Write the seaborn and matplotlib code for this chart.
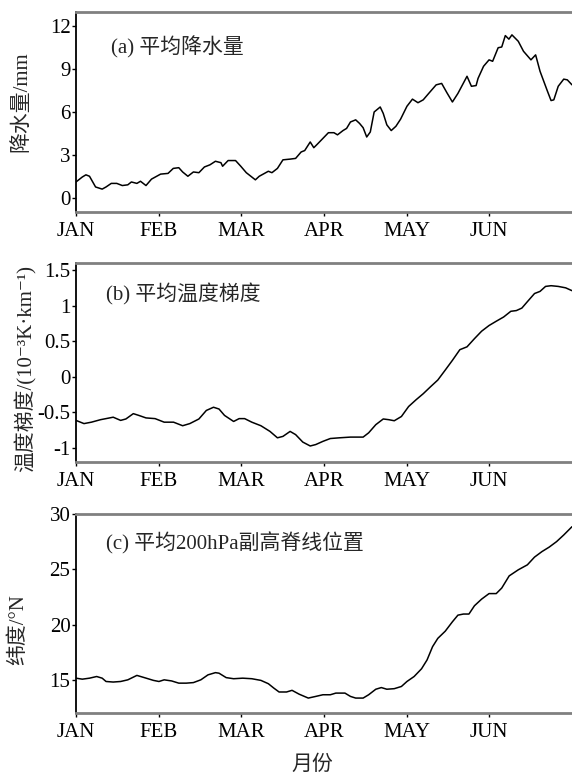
import matplotlib
matplotlib.use('Agg')
import matplotlib.pyplot as plt
import seaborn as sns
import pandas as pd

# eixo x: dias desde 1 jan (cada mes ~30 dias no grafico)
meses = ['JAN', 'FEB', 'MAR', 'APR', 'MAY', 'JUN']
pos_meses = [0, 30, 60, 90, 120, 150]

# (a) precipitacao media
dias_a = [0, 2.3, 3.6, 4.9, 7.1, 9.5, 10.9, 12.8, 14.8, 16.8, 18.8, 20.1, 22.1, 23.4, 25.4, 27.4,
          30.7, 33.4, 35.3, 37.3, 38.7, 40.6, 42.6, 44.6, 46.6, 48.6, 50.6, 52.6, 53.2, 55.2, 57.9,
          59.8, 61.8, 65.1, 66.5, 68.4, 69.8, 71.1, 73.1, 75.1, 77.7, 79.7, 81.7, 83.0, 85.0, 86.3,
          87.6, 89.6, 91.6, 93.6, 94.9, 96.9, 98.2, 99.6, 101.5, 102.9, 104.2, 105.5, 106.8, 108.2,
          110.4, 111.5, 112.8, 114.4, 116.1, 117.8, 120.1, 122.1, 124.1, 126.0, 128.0, 130.7, 132.7,
          134.6, 136.6, 138.6, 141.9, 143.5, 145.2, 145.9, 147.9, 149.9, 151.2, 153.2, 154.5, 155.8,
          157.1, 158.2, 160.5, 162.4, 165.1, 166.8, 168.4, 171.1, 172.4, 173.4, 175.0, 177.0, 178.3, 180]
prec = [1.1, 1.45, 1.6, 1.5, 0.75, 0.6, 0.75, 1.0, 1.0, 0.85, 0.9, 1.1, 1.0, 1.15, 0.85, 1.3,
        1.65, 1.7, 2.05, 2.1, 1.8, 1.5, 1.8, 1.75, 2.15, 2.3, 2.55, 2.45, 2.2, 2.6, 2.6,
        2.2, 1.75, 1.25, 1.5, 1.7, 1.85, 1.75, 2.05, 2.65, 2.7, 2.75, 3.2, 3.3, 3.9, 3.5,
        3.75, 4.15, 4.55, 4.55, 4.4, 4.7, 4.85, 5.3, 5.45, 5.2, 4.9, 4.25, 4.6, 6.0,
        6.35, 5.9, 5.1, 4.7, 5.0, 5.5, 6.4, 6.9, 6.65, 6.85, 7.3, 7.9, 8.0,
        7.35, 6.7, 7.3, 8.5, 7.8, 7.85, 8.35, 9.2, 9.65, 9.55, 10.5, 10.55, 11.35,
        11.1, 11.4, 10.95, 10.25, 9.65, 10.0, 8.85, 7.45, 6.8, 6.85, 7.8, 8.3, 8.25, 7.9]

# (b) gradiente de temperatura medio
dias_b = [0, 2.9, 5.6, 8.9, 12.2, 13.5, 16.2, 18.1, 20.8, 22.8, 25.4, 28.7, 32.0, 35.4, 38.7,
          41.3, 44.6, 47.3, 49.9, 51.9, 53.9, 57.2, 59.2, 61.2, 63.8, 67.1, 70.4, 73.1, 75.1,
          77.7, 79.7, 82.3, 85.0, 87.0, 89.6, 92.3, 95.6, 99.6, 104.2, 106.2, 108.8, 111.5,
          113.5, 115.5, 118.1, 120.7, 123.4, 126.0, 128.7, 131.3, 134.0, 136.6, 139.3, 141.9,
          144.6, 147.2, 149.9, 152.5, 155.2, 157.8, 159.8, 161.8, 163.8, 166.4, 168.4, 170.4,
          172.4, 175.0, 177.7, 180]
grad = [-0.615, -0.66, -0.64, -0.605, -0.58, -0.57, -0.615, -0.595, -0.52, -0.545, -0.58, -0.59,
        -0.64, -0.64, -0.69, -0.66, -0.595, -0.475, -0.43, -0.455, -0.545, -0.63, -0.59, -0.59,
        -0.64, -0.69, -0.77, -0.86, -0.84, -0.77, -0.815, -0.92, -0.975, -0.955, -0.91, -0.87,
        -0.86, -0.85, -0.85, -0.79, -0.675, -0.595, -0.605, -0.62, -0.56, -0.42, -0.325, -0.24,
        -0.14, -0.047, 0.093, 0.23, 0.38, 0.42, 0.535, 0.64, 0.72, 0.78, 0.84, 0.92, 0.93,
        0.965, 1.055, 1.17, 1.2, 1.27, 1.28, 1.27, 1.25, 1.21]

# (c) posicao media da crista subtropical em 200hPa
dias_c = [0, 2.3, 4.9, 7.5, 9.5, 10.9, 13.5, 16.2, 18.8, 22.1, 24.8, 28.1, 30.1, 32.0, 34.7,
          37.3, 40.0, 42.6, 45.3, 47.9, 50.6, 51.9, 54.5, 57.2, 60.5, 63.8, 67.1, 69.8, 71.8,
          73.7, 76.4, 78.4, 81.0, 84.3, 87.0, 89.6, 92.3, 94.3, 97.6, 99.6, 101.5, 104.2, 106.2,
          108.8, 110.8, 112.8, 115.5, 118.1, 120.1, 122.7, 125.4, 127.4, 129.4, 131.3, 134.0,
          136.6, 138.6, 140.6, 142.6, 144.6, 147.2, 149.9, 152.5, 154.5, 157.2, 160.5, 163.8,
          166.4, 169.1, 171.7, 174.4, 177.0, 180]
lat = [15.15, 15.06, 15.15, 15.3, 15.15, 14.85, 14.8, 14.85, 15.0, 15.4, 15.2, 14.95, 14.85,
       15.0, 14.9, 14.7, 14.7, 14.75, 15.0, 15.45, 15.65, 15.6, 15.2, 15.1, 15.15, 15.1, 14.95,
       14.65, 14.25, 13.9, 13.9, 14.05, 13.7, 13.35, 13.5, 13.65, 13.65, 13.8, 13.8, 13.5, 13.35,
       13.35, 13.65, 14.15, 14.3, 14.15, 14.2, 14.4, 14.85, 15.3, 16.0, 16.8, 18.0, 18.75, 19.4,
       20.25, 20.85, 20.95, 20.95, 21.7, 22.3, 22.8, 22.8, 23.3, 24.4, 24.95, 25.4, 26.1, 26.6,
       27.0, 27.5, 28.1, 28.85]

sns.set_style('ticks')
plt.rcParams['font.family'] = ['Liberation Serif', 'Noto Sans CJK SC', 'DejaVu Sans']
plt.rcParams['axes.unicode_minus'] = False

fig = plt.figure(figsize=(5.72, 7.75), dpi=100)

paineis = [
    (dias_a, prec, [0.7265, 0.258], (-1, 13), [0, 3, 6, 9, 12], ['0', '3', '6', '9', '12'],
     '降水量/mm', (-0.089, 0.55), '(a) 平均降水量', (0.07, 0.825)),
    (dias_b, grad, [0.4039, 0.2568], (-1.2, 1.6), [-1, -0.5, 0, 0.5, 1, 1.5],
     ['-1', '-0.5', '0', '0.5', '1', '1.5'],
     '温度梯度/(10⁻³K·km⁻¹)', (-0.079, 0.47), '(b) 平均温度梯度', (0.06, 0.84)),
    (dias_c, lat, [0.08, 0.2568], (12, 30), [15, 20, 25, 30], ['15', '20', '25', '30'],
     '纬度/°N', (-0.097, 0.417), '(c) 平均200hPa副高脊线位置', (0.06, 0.854)),
]

for i, (x, y, (b, h), lim, yt, ytl, ylab, ylpos, titulo, tpos) in enumerate(paineis):
    ax = fig.add_axes([76 / 572, b, 496 / 572, h])
    df = pd.DataFrame({'dia': x, 'valor': y})
    sns.lineplot(data=df, x='dia', y='valor', ax=ax, color='black', lw=1.1)
    ax.set_xlim(0, 180)
    ax.set_ylim(*lim)
    ax.set_xticks(pos_meses)
    ax.set_xticklabels(meses)
    ax.set_yticks(yt)
    ax.set_yticklabels(ytl)
    ax.tick_params(axis='both', direction='out', length=3, width=1, labelsize=15, colors='black')
    ax.tick_params(axis='x', pad=4)
    ax.tick_params(axis='y', pad=1)
    ax.set_ylabel(ylab, fontsize=15)
    ax.yaxis.set_label_coords(*ylpos)
    ax.text(tpos[0], tpos[1], titulo, transform=ax.transAxes, fontsize=15, va='center', ha='left')
    for lado in ['top', 'bottom']:
        ax.spines[lado].set_color('#808080')
        ax.spines[lado].set_linewidth(2.0)
    ax.spines['left'].set_color('black')
    ax.spines['left'].set_linewidth(1.3)
    ax.spines['right'].set_visible(False)
    if i == 2:
        ax.set_xlabel('月份', fontsize=15)
        ax.xaxis.set_label_coords(0.476, -0.215)
    else:
        ax.set_xlabel('')

fig.savefig('out.png', dpi=100)
